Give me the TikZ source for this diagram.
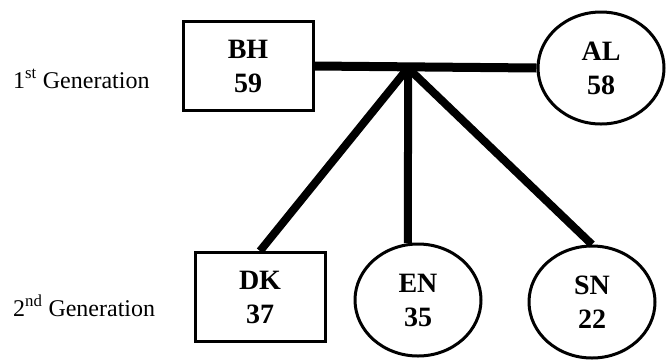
\documentclass[tikz,border=0pt]{standalone}
\usepackage{fontspec}
\setmainfont{Liberation Serif}
\usetikzlibrary{shapes.geometric}
\tikzset{male/.style={draw,line width=3pt,rectangle,minimum width=130pt,
           minimum height=89pt,align=center,font=\fontsize{28}{34}\selectfont\bfseries},
         female/.style={draw,line width=3pt,ellipse,minimum width=126pt,
           minimum height=112pt,inner sep=0pt,align=center,font=\fontsize{28}{34}\selectfont\bfseries},
         link/.style={line width=8pt},
         gen/.style={anchor=base west,inner sep=0pt,font=\fontsize{24}{28}\selectfont}}

\begin{document}
\begin{tikzpicture}[x=1pt,y=-1pt]
  \useasboundingbox (0,0) rectangle (666,360);
  % parents
  \node[male]   (BH) at (248,66)  {BH\\59};
  \node[female] (AL) at (601,68)  {AL\\58};
  % children
  \node[male]   (DK) at (260,297) {DK\\37};
  \node[female] (EN) at (418,300) {EN\\35};
  \node[female] (SN) at (592,302) {SN\\22};
  \coordinate (J) at (408,68);
  \draw[link,line width=9pt] (BH.east) -- (AL.west);
  \draw[link] (J) -- (DK.north);
  \draw[link] (J) -- (EN.100);
  \draw[link] (J) -- (SN.north);
  % generation labels
  \node[gen] (G1) at (13,88)  {1\textsuperscript{st} Generation};
  \node[gen] (G2) at (13,316) {2\textsuperscript{nd} Generation};
\end{tikzpicture}
\end{document}
